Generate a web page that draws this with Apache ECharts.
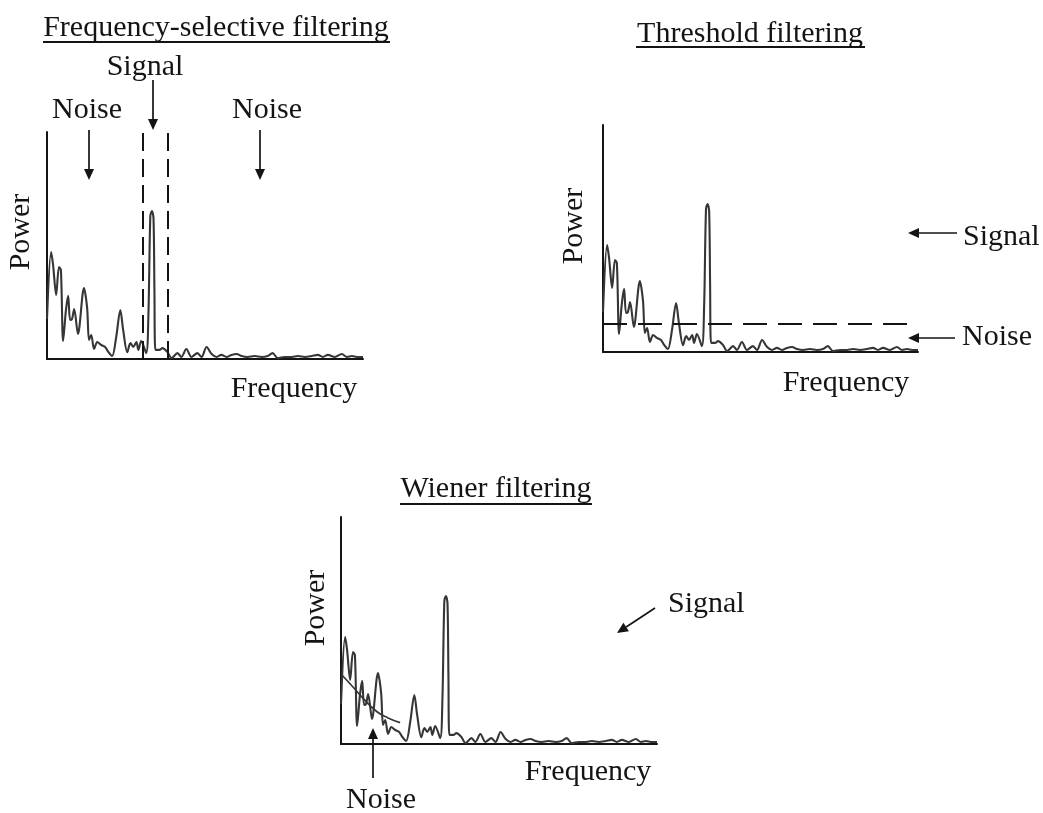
<!DOCTYPE html>
<html>
<head>
<meta charset="utf-8">
<script src="https://cdn.jsdelivr.net/npm/echarts@6/dist/echarts.min.js"></script>
<style>
  html, body { margin: 0; padding: 0; background: #fff; }
  #chart { width: 1043px; height: 813px; }
</style>
</head>
<body>
<div id="chart"></div>
<script>
// Power spectrum shared by the three panels
// frequency: normalised 0-100, power: relative 0-100
const freq = [0, 1.3, 1.9, 2.9, 3.8, 4.4, 5.1, 6.0, 6.7, 7.3, 7.9, 8.6, 9.8, 11.7, 12.7, 13.3, 14.0, 14.9, 15.9, 17.1,
  18.4, 19.4, 20.6, 21.9, 23.2, 24.1, 25.4, 26.4, 27.3, 28.3, 28.9, 29.8, 31.4, 32.1, 32.7, 33.2, 33.7, 34.0, 34.3, 35.6,
  36.5, 38.1, 39.4, 41.3, 42.5, 44.1, 45.7, 47.6, 48.9, 50.5, 52.1, 53.7, 55.2, 56.8, 58.4, 60.0, 61.6, 63.5, 65.7, 67.9,
  69.8, 71.4, 73.0, 75.2, 77.5, 79.4, 81.6, 83.8, 85.7, 87.3, 88.9, 91.1, 93.3, 94.9, 96.5, 98.1, 100];
const power = [17.6, 47.1, 41.8, 28.2, 40.5, 39.2, 7.9, 21.6, 27.8, 17.2, 17.6, 22.0, 11.0, 31.3, 22.5, 8.4, 10.6, 4.4, 7.5, 6.2,
  5.3, 3.1, 1.3, 9.7, 21.6, 12.8, 3.0, 7.0, 5.3, 7.5, 4.0, 7.9, 2.6, 20, 63, 65.2, 62.1, 30, 4.0, 4.0,
  4.8, 3.1, 0.4, 2.6, 0.9, 4.4, 0.9, 2.6, 0.9, 5.3, 2.2, 0.9, 1.8, 0.9, 1.8, 2.2, 1.3, 0.9, 1.3, 0.9,
  1.3, 2.6, 0.4, 0.9, 0.9, 1.3, 0.9, 1.3, 1.8, 0.9, 1.8, 0.9, 2.2, 0.9, 1.3, 0.9, 0.9];

// Band-pass edges (frequency-selective filter)
const passBand = [30.2, 38.1];
// Power threshold (threshold filter)
const threshold = 12.3;
// Estimated noise spectrum (Wiener filter)
const noiseFreq = [0.3, 3.8, 7.0, 11.4, 14.9, 18.7];
const noisePower = [30.4, 25.1, 20.1, 14.2, 11.5, 9.4];

const panelTitles = ['Frequency-selective filtering', 'Threshold filtering', 'Wiener filtering'];
const xName = 'Frequency';
const yName = 'Power';

const spectrum = freq.map((f, i) => [f, power[i]]);
const noiseEstimate = noiseFreq.map((f, i) => [f, noisePower[i]]);

const INK = '#141414';
const CURVE = '#363636';
const FONT = '"Liberation Serif", "Times New Roman", serif';

const grids = [
  { left: 47, top: 132, width: 316, height: 227 },
  { left: 603, top: 125, width: 315, height: 227 },
  { left: 341, top: 517, width: 316, height: 227 }
];

function axis(i) {
  return {
    gridIndex: i, type: 'value', min: 0, max: 100,
    axisLine: { show: true, onZero: false, lineStyle: { color: INK, width: 2 } },
    axisTick: { show: false }, axisLabel: { show: false }, splitLine: { show: false }
  };
}

function spectrumSeries(i, extra) {
  return Object.assign({
    type: 'line', xAxisIndex: i, yAxisIndex: i, data: spectrum,
    showSymbol: false, smooth: 0.3, silent: true,
    lineStyle: { color: CURVE, width: 2.1 }
  }, extra || {});
}

function text(str, x, y, opts) {
  return Object.assign({
    type: 'text', x: x, y: y, silent: true,
    style: Object.assign({
      text: str, fill: INK, fontSize: 30, fontFamily: FONT,
      align: 'center', verticalAlign: 'middle'
    }, (opts && opts.style) || {})
  }, opts && opts.rotation ? { rotation: opts.rotation } : {});
}

function line(x1, y1, x2, y2, w) {
  return { type: 'line', silent: true, shape: { x1, y1, x2, y2 }, style: { stroke: INK, lineWidth: w || 1.6 } };
}

function arrow(x1, y1, x2, y2) {
  const a = Math.atan2(y2 - y1, x2 - x1);
  const len = 11, hw = 5;
  const bx = x2 - len * Math.cos(a), by = y2 - len * Math.sin(a);
  const px = -Math.sin(a) * hw, py = Math.cos(a) * hw;
  return [
    line(x1, y1, bx, by, 1.7),
    { type: 'polygon', silent: true,
      shape: { points: [[x2, y2], [bx + px, by + py], [bx - px, by - py]] },
      style: { fill: INK } }
  ];
}

const graphics = [
  // Panel 1
  text(panelTitles[0], 216, 28),
  line(43, 42, 390, 42, 1.8),
  text('Signal', 145, 67),
  text('Noise', 87, 110),
  text('Noise', 267, 110),
  ...arrow(153, 80, 153, 130),
  ...arrow(89, 130, 89, 180),
  ...arrow(260, 130, 260, 180),
  text(yName, 21, 232, { rotation: Math.PI / 2 }),
  text(xName, 294, 389),
  // Panel 2
  text(panelTitles[1], 750, 34),
  line(636, 47, 865, 47, 1.8),
  text(yName, 574, 226, { rotation: Math.PI / 2 }),
  text(xName, 846, 383),
  text('Signal', 963, 237, { style: { align: 'left' } }),
  ...arrow(957, 233, 908, 233),
  text('Noise', 962, 337, { style: { align: 'left' } }),
  ...arrow(955, 338, 908, 338),
  // Panel 3
  text(panelTitles[2], 496, 489),
  line(400, 504, 592, 504, 1.8),
  text(yName, 316, 608, { rotation: Math.PI / 2 }),
  text(xName, 588, 772),
  text('Noise', 381, 800),
  ...arrow(373, 778, 373, 728),
  text('Signal', 668, 604, { style: { align: 'left' } }),
  ...arrow(655, 608, 617, 633)
];

const chart = echarts.init(document.getElementById('chart'), null, { renderer: 'canvas' });
chart.setOption({
  animation: false,
  backgroundColor: '#fff',
  grid: grids,
  xAxis: [axis(0), axis(1), axis(2)],
  yAxis: [axis(0), axis(1), axis(2)],
  series: [
    spectrumSeries(0, {
      markLine: {
        silent: true, symbol: ['none', 'none'], label: { show: false },
        lineStyle: { color: INK, width: 2, type: [18, 8] },
        data: passBand.map(v => ({ xAxis: v }))
      }
    }),
    spectrumSeries(1, {
      markLine: {
        silent: true, symbol: ['none', 'none'], label: { show: false },
        lineStyle: { color: INK, width: 2, type: [24, 11] },
        data: [{ yAxis: threshold }]
      }
    }),
    spectrumSeries(2),
    {
      type: 'line', xAxisIndex: 2, yAxisIndex: 2, data: noiseEstimate,
      showSymbol: false, smooth: true, silent: true,
      lineStyle: { color: CURVE, width: 1.7 }
    }
  ],
  graphic: graphics
});
</script>
</body>
</html>
